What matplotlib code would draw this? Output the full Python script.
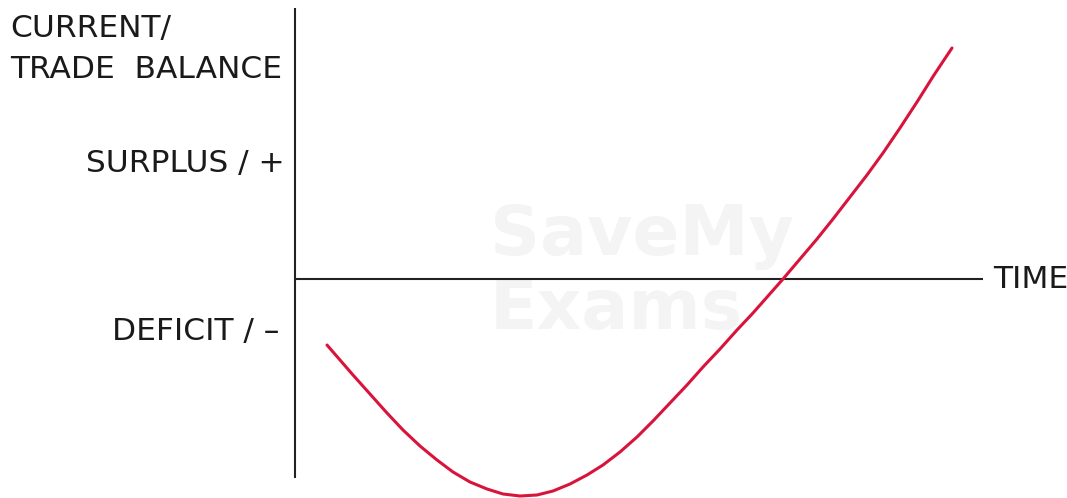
import matplotlib
matplotlib.use("Agg")
import matplotlib.pyplot as plt

# J-curve: current/trade balance over time
time = [32, 45, 58, 75, 92, 108, 125, 142, 158, 175, 192, 208, 225, 242, 258,
        275, 292, 308, 325, 342, 358, 375, 392, 408, 425, 442, 458, 473, 488,
        505, 522, 538, 555, 572, 588, 605, 622, 639, 657]
balance = [-66, -81, -96, -115, -134, -151, -167, -181, -193, -203, -210, -215,
           -217, -216, -212, -205, -196, -186, -173, -158, -142, -124, -106,
           -88, -70, -51, -34, -17, 0, 20, 40, 60, 82, 104, 126, 151, 177, 204,
           231]

y_label = "CURRENT/\nTRADE  BALANCE"
x_label = "TIME"
surplus_label = "SURPLUS / +"
deficit_label = "DEFICIT / \u2013"

fig = plt.figure(figsize=(10.67, 4.98), dpi=100)
ax = fig.add_axes([0, 0, 1, 1])
ax.set_xlim(-295, 772)
ax.set_ylim(-219, 279)
ax.axis("off")

# watermark
ax.text(195, 6, "SaveMy\nExams", fontsize=50, fontweight="bold", color="#f4f4f4",
        ha="left", va="center", linespacing=1.12, zorder=0)

# axes
ax.plot([0, 0], [-199, 271], color="#222222", lw=1.5, solid_capstyle="butt")
ax.plot([0, 688], [0, 0], color="#222222", lw=1.5, solid_capstyle="butt")

# curve
ax.plot(time, balance, color="#d8143c", lw=2.2, solid_capstyle="round",
        solid_joinstyle="round", zorder=3)

txt = dict(fontsize=22.5, color="#1a1a1a", family="DejaVu Sans")
ax.text(-285, 230, y_label, ha="left", va="center", linespacing=1.5, **txt)
ax.text(-10, 116, surplus_label, ha="right", va="center", **txt)
ax.text(-16, -52, deficit_label, ha="right", va="center", **txt)
ax.text(698, 0, x_label, ha="left", va="center", **txt)

fig.savefig("out.png", dpi=100)
